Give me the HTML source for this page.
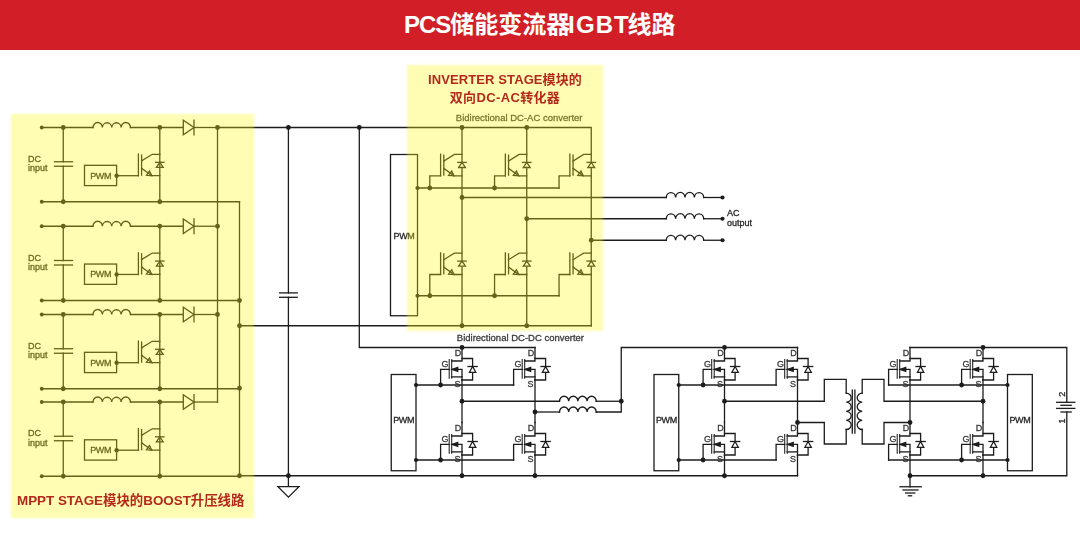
<!DOCTYPE html>
<html lang="zh-CN">
<head>
<meta charset="utf-8">
<title>PCS储能变流器IGBT线路</title>
<style>
html,body{margin:0;padding:0;background:#fff;}
body{width:1080px;height:536px;position:relative;overflow:hidden;font-family:"Liberation Sans","Noto Sans CJK SC",sans-serif;}
.hdr{position:absolute;left:0;top:0;width:1080px;height:49.5px;background:#d21f27;}
.hdr h1{margin:0;position:absolute;left:-0.3px;width:1080px;top:7px;text-align:center;color:#fff;font-weight:bold;font-size:24px;line-height:36px;letter-spacing:0;}
svg{position:absolute;left:0;top:0;will-change:transform;}
.hl{position:absolute;background:rgba(255,246,20,0.32);filter:blur(0.8px);}
.cap{position:absolute;color:#b5291c;font-weight:bold;font-size:13px;line-height:18px;white-space:nowrap;text-align:center;}
</style>
</head>
<body>
<div class="hdr"><h1><span style="letter-spacing:-1px">PCS</span>储能变流器<span style="margin-left:-2.2px;margin-right:-2.4px;letter-spacing:1.1px">IGBT</span>线路</h1></div>
<svg width="1080" height="536" viewBox="0 0 1080 536" font-family="'Liberation Sans','Noto Sans CJK SC',sans-serif">
<g fill="none" stroke="#1c1c1c" stroke-width="1.3" stroke-linecap="square" stroke-linejoin="miter">
<circle cx="41.75" cy="127.5" r="1.9" fill="#1c1c1c" stroke="none"/>
<circle cx="41.75" cy="201.75" r="1.9" fill="#1c1c1c" stroke="none"/>
<path d="M41.75 127.5 L93 127.5"/>
<path d="M93 127.5 A4.69 5 0 0 1 102.38 127.5 A4.69 5 0 0 1 111.75 127.5 A4.69 5 0 0 1 121.12 127.5 A4.69 5 0 0 1 130.5 127.5"/>
<path d="M130.5 127.5 L183.3 127.5"/>
<path d="M183.3 120.2 L183.3 134.8 L194 127.5 Z" fill="#fff"/>
<path d="M194 120.2 L194 134.8"/>
<path d="M194 127.5 L217.5 127.5"/>
<circle cx="63.25" cy="127.5" r="2.4" fill="#1c1c1c" stroke="none"/>
<circle cx="63.25" cy="201.75" r="2.4" fill="#1c1c1c" stroke="none"/>
<path d="M63.25 127.5 L63.25 161.75"/>
<path d="M54.5 161.75 L72.5 161.75"/>
<path d="M54.5 166.25 L72.5 166.25"/>
<path d="M63.25 166.25 L63.25 201.75"/>
<text x="28" y="161.8" font-size="9" text-anchor="start" fill="#262626" stroke="#262626" stroke-width="0.3">DC</text>
<text x="28" y="171.1" font-size="9" text-anchor="start" fill="#262626" stroke="#262626" stroke-width="0.3">input</text>
<rect x="84.5" y="165.3" width="32.1" height="20.3"/>
<text x="100.6" y="178.7" font-size="9" text-anchor="middle" fill="#262626" stroke="#262626" stroke-width="0.3" letter-spacing="-0.4">PWM</text>
<circle cx="116.6" cy="175.8" r="2.2" fill="#1c1c1c" stroke="none"/>
<path d="M138.4 154.1 L138.4 175.7"/>
<path d="M141.6 155.1 L141.6 175.1"/>
<path d="M141.6 160.9 L152.2 154.3 L159.8 154.3"/>
<path d="M141.6 168.3 L151.8 175.7 L159.8 175.7"/>
<path d="M146.4 175.3 L149.5 171 L151.8 175.7 Z" fill="none"/>
<path d="M155.6 162.3 L164 162.3"/>
<path d="M156.4 167.4 L163.2 167.4 L159.8 162.3 Z" fill="#fff"/>
<path d="M116.6 175.7 L138.4 175.7"/>
<path d="M159.8 127.5 L159.8 201.75"/>
<circle cx="159.8" cy="127.5" r="2.4" fill="#1c1c1c" stroke="none"/>
<circle cx="159.8" cy="201.75" r="2.4" fill="#1c1c1c" stroke="none"/>
<path d="M41.75 201.75 L239.5 201.75"/>
<circle cx="41.75" cy="226.25" r="1.9" fill="#1c1c1c" stroke="none"/>
<circle cx="41.75" cy="300.5" r="1.9" fill="#1c1c1c" stroke="none"/>
<path d="M41.75 226.25 L93 226.25"/>
<path d="M93 226.25 A4.69 5 0 0 1 102.38 226.25 A4.69 5 0 0 1 111.75 226.25 A4.69 5 0 0 1 121.12 226.25 A4.69 5 0 0 1 130.5 226.25"/>
<path d="M130.5 226.25 L183.3 226.25"/>
<path d="M183.3 218.95 L183.3 233.55 L194 226.25 Z" fill="#fff"/>
<path d="M194 218.95 L194 233.55"/>
<path d="M194 226.25 L217.5 226.25"/>
<circle cx="63.25" cy="226.25" r="2.4" fill="#1c1c1c" stroke="none"/>
<circle cx="63.25" cy="300.5" r="2.4" fill="#1c1c1c" stroke="none"/>
<path d="M63.25 226.25 L63.25 260.5"/>
<path d="M54.5 260.5 L72.5 260.5"/>
<path d="M54.5 265 L72.5 265"/>
<path d="M63.25 265 L63.25 300.5"/>
<text x="28" y="260.55" font-size="9" text-anchor="start" fill="#262626" stroke="#262626" stroke-width="0.3">DC</text>
<text x="28" y="269.85" font-size="9" text-anchor="start" fill="#262626" stroke="#262626" stroke-width="0.3">input</text>
<rect x="84.5" y="264.05" width="32.1" height="20.3"/>
<text x="100.6" y="277.45" font-size="9" text-anchor="middle" fill="#262626" stroke="#262626" stroke-width="0.3" letter-spacing="-0.4">PWM</text>
<circle cx="116.6" cy="274.55" r="2.2" fill="#1c1c1c" stroke="none"/>
<path d="M138.4 252.85 L138.4 274.45"/>
<path d="M141.6 253.85 L141.6 273.85"/>
<path d="M141.6 259.65 L152.2 253.05 L159.8 253.05"/>
<path d="M141.6 267.05 L151.8 274.45 L159.8 274.45"/>
<path d="M146.4 274.05 L149.5 269.75 L151.8 274.45 Z" fill="none"/>
<path d="M155.6 261.05 L164 261.05"/>
<path d="M156.4 266.15 L163.2 266.15 L159.8 261.05 Z" fill="#fff"/>
<path d="M116.6 274.45 L138.4 274.45"/>
<path d="M159.8 226.25 L159.8 300.5"/>
<circle cx="159.8" cy="226.25" r="2.4" fill="#1c1c1c" stroke="none"/>
<circle cx="159.8" cy="300.5" r="2.4" fill="#1c1c1c" stroke="none"/>
<path d="M41.75 300.5 L239.5 300.5"/>
<circle cx="41.75" cy="314.5" r="1.9" fill="#1c1c1c" stroke="none"/>
<circle cx="41.75" cy="388.75" r="1.9" fill="#1c1c1c" stroke="none"/>
<path d="M41.75 314.5 L93 314.5"/>
<path d="M93 314.5 A4.69 5 0 0 1 102.38 314.5 A4.69 5 0 0 1 111.75 314.5 A4.69 5 0 0 1 121.12 314.5 A4.69 5 0 0 1 130.5 314.5"/>
<path d="M130.5 314.5 L183.3 314.5"/>
<path d="M183.3 307.2 L183.3 321.8 L194 314.5 Z" fill="#fff"/>
<path d="M194 307.2 L194 321.8"/>
<path d="M194 314.5 L217.5 314.5"/>
<circle cx="63.25" cy="314.5" r="2.4" fill="#1c1c1c" stroke="none"/>
<circle cx="63.25" cy="388.75" r="2.4" fill="#1c1c1c" stroke="none"/>
<path d="M63.25 314.5 L63.25 348.75"/>
<path d="M54.5 348.75 L72.5 348.75"/>
<path d="M54.5 353.25 L72.5 353.25"/>
<path d="M63.25 353.25 L63.25 388.75"/>
<text x="28" y="348.8" font-size="9" text-anchor="start" fill="#262626" stroke="#262626" stroke-width="0.3">DC</text>
<text x="28" y="358.1" font-size="9" text-anchor="start" fill="#262626" stroke="#262626" stroke-width="0.3">input</text>
<rect x="84.5" y="352.3" width="32.1" height="20.3"/>
<text x="100.6" y="365.7" font-size="9" text-anchor="middle" fill="#262626" stroke="#262626" stroke-width="0.3" letter-spacing="-0.4">PWM</text>
<circle cx="116.6" cy="362.8" r="2.2" fill="#1c1c1c" stroke="none"/>
<path d="M138.4 341.1 L138.4 362.7"/>
<path d="M141.6 342.1 L141.6 362.1"/>
<path d="M141.6 347.9 L152.2 341.3 L159.8 341.3"/>
<path d="M141.6 355.3 L151.8 362.7 L159.8 362.7"/>
<path d="M146.4 362.3 L149.5 358 L151.8 362.7 Z" fill="none"/>
<path d="M155.6 349.3 L164 349.3"/>
<path d="M156.4 354.4 L163.2 354.4 L159.8 349.3 Z" fill="#fff"/>
<path d="M116.6 362.7 L138.4 362.7"/>
<path d="M159.8 314.5 L159.8 388.75"/>
<circle cx="159.8" cy="314.5" r="2.4" fill="#1c1c1c" stroke="none"/>
<circle cx="159.8" cy="388.75" r="2.4" fill="#1c1c1c" stroke="none"/>
<path d="M41.75 388.75 L239.5 388.75"/>
<circle cx="41.75" cy="402" r="1.9" fill="#1c1c1c" stroke="none"/>
<circle cx="41.75" cy="476.25" r="1.9" fill="#1c1c1c" stroke="none"/>
<path d="M41.75 402 L93 402"/>
<path d="M93 402 A4.69 5 0 0 1 102.38 402 A4.69 5 0 0 1 111.75 402 A4.69 5 0 0 1 121.12 402 A4.69 5 0 0 1 130.5 402"/>
<path d="M130.5 402 L183.3 402"/>
<path d="M183.3 394.7 L183.3 409.3 L194 402 Z" fill="#fff"/>
<path d="M194 394.7 L194 409.3"/>
<path d="M194 402 L217.5 402"/>
<circle cx="63.25" cy="402" r="2.4" fill="#1c1c1c" stroke="none"/>
<circle cx="63.25" cy="476.25" r="2.4" fill="#1c1c1c" stroke="none"/>
<path d="M63.25 402 L63.25 436.25"/>
<path d="M54.5 436.25 L72.5 436.25"/>
<path d="M54.5 440.75 L72.5 440.75"/>
<path d="M63.25 440.75 L63.25 476.25"/>
<text x="28" y="436.3" font-size="9" text-anchor="start" fill="#262626" stroke="#262626" stroke-width="0.3">DC</text>
<text x="28" y="445.6" font-size="9" text-anchor="start" fill="#262626" stroke="#262626" stroke-width="0.3">input</text>
<rect x="84.5" y="439.8" width="32.1" height="20.3"/>
<text x="100.6" y="453.2" font-size="9" text-anchor="middle" fill="#262626" stroke="#262626" stroke-width="0.3" letter-spacing="-0.4">PWM</text>
<circle cx="116.6" cy="450.3" r="2.2" fill="#1c1c1c" stroke="none"/>
<path d="M138.4 428.6 L138.4 450.2"/>
<path d="M141.6 429.6 L141.6 449.6"/>
<path d="M141.6 435.4 L152.2 428.8 L159.8 428.8"/>
<path d="M141.6 442.8 L151.8 450.2 L159.8 450.2"/>
<path d="M146.4 449.8 L149.5 445.5 L151.8 450.2 Z" fill="none"/>
<path d="M155.6 436.8 L164 436.8"/>
<path d="M156.4 441.9 L163.2 441.9 L159.8 436.8 Z" fill="#fff"/>
<path d="M116.6 450.2 L138.4 450.2"/>
<path d="M159.8 402 L159.8 476.25"/>
<circle cx="159.8" cy="402" r="2.4" fill="#1c1c1c" stroke="none"/>
<circle cx="159.8" cy="476.25" r="2.4" fill="#1c1c1c" stroke="none"/>
<path d="M41.75 476.25 L239.5 476.25"/>
<path d="M217.5 127.5 L217.5 402"/>
<path d="M239.5 201.75 L239.5 475.75"/>
<circle cx="217.5" cy="127.5" r="2.4" fill="#1c1c1c" stroke="none"/>
<circle cx="217.5" cy="226.25" r="2.4" fill="#1c1c1c" stroke="none"/>
<circle cx="217.5" cy="314.5" r="2.4" fill="#1c1c1c" stroke="none"/>
<circle cx="239.5" cy="300.5" r="2.4" fill="#1c1c1c" stroke="none"/>
<circle cx="239.5" cy="325.75" r="2.4" fill="#1c1c1c" stroke="none"/>
<circle cx="239.5" cy="388.25" r="2.4" fill="#1c1c1c" stroke="none"/>
<circle cx="239.5" cy="475.75" r="2.4" fill="#1c1c1c" stroke="none"/>
<path d="M217.5 127.5 L591.25 127.5 L591.25 325.75"/>
<circle cx="288.4" cy="127.5" r="2.4" fill="#1c1c1c" stroke="none"/>
<circle cx="359.3" cy="127.5" r="2.4" fill="#1c1c1c" stroke="none"/>
<path d="M288.4 127.5 L288.4 292.9"/>
<path d="M279.6 292.9 L297.2 292.9"/>
<path d="M279.6 297.3 L297.2 297.3"/>
<path d="M288.4 297.3 L288.4 486.6"/>
<circle cx="288.4" cy="475.75" r="2.4" fill="#1c1c1c" stroke="none"/>
<path d="M277.9 486.6 L299 486.6 L288.4 497.2 Z" fill="#fff"/>
<path d="M359.3 127.5 L359.3 347.5 L535 347.5"/>
<path d="M239.5 325.75 L591.25 325.75"/>
<path d="M239.5 475.75 L797.5 475.75"/>
<path d="M462 127.5 L462 325.75"/>
<circle cx="462" cy="127.5" r="2.4" fill="#1c1c1c" stroke="none"/>
<circle cx="462" cy="325.75" r="2.4" fill="#1c1c1c" stroke="none"/>
<path d="M440.6 154.2 L440.6 175.8"/>
<path d="M443.8 155.2 L443.8 175.2"/>
<path d="M443.8 161 L454.4 154.4 L462 154.4"/>
<path d="M443.8 168.4 L454 175.8 L462 175.8"/>
<path d="M448.6 175.4 L451.7 171.1 L454 175.8 Z" fill="none"/>
<path d="M457.8 162.4 L466.2 162.4"/>
<path d="M458.6 167.5 L465.4 167.5 L462 162.4 Z" fill="#fff"/>
<path d="M440.6 175.8 L429.8 175.8 L429.8 188"/>
<circle cx="429.8" cy="188" r="2.4" fill="#1c1c1c" stroke="none"/>
<path d="M440.6 252.9 L440.6 274.5"/>
<path d="M443.8 253.9 L443.8 273.9"/>
<path d="M443.8 259.7 L454.4 253.1 L462 253.1"/>
<path d="M443.8 267.1 L454 274.5 L462 274.5"/>
<path d="M448.6 274.1 L451.7 269.8 L454 274.5 Z" fill="none"/>
<path d="M457.8 261.1 L466.2 261.1"/>
<path d="M458.6 266.2 L465.4 266.2 L462 261.1 Z" fill="#fff"/>
<path d="M440.6 274.5 L429.8 274.5 L429.8 295.75"/>
<circle cx="429.8" cy="295.75" r="2.4" fill="#1c1c1c" stroke="none"/>
<path d="M526.75 127.5 L526.75 325.75"/>
<circle cx="526.75" cy="127.5" r="2.4" fill="#1c1c1c" stroke="none"/>
<circle cx="526.75" cy="325.75" r="2.4" fill="#1c1c1c" stroke="none"/>
<path d="M505.35 154.2 L505.35 175.8"/>
<path d="M508.55 155.2 L508.55 175.2"/>
<path d="M508.55 161 L519.15 154.4 L526.75 154.4"/>
<path d="M508.55 168.4 L518.75 175.8 L526.75 175.8"/>
<path d="M513.35 175.4 L516.45 171.1 L518.75 175.8 Z" fill="none"/>
<path d="M522.55 162.4 L530.95 162.4"/>
<path d="M523.35 167.5 L530.15 167.5 L526.75 162.4 Z" fill="#fff"/>
<path d="M505.35 175.8 L494.55 175.8 L494.55 188"/>
<circle cx="494.55" cy="188" r="2.4" fill="#1c1c1c" stroke="none"/>
<path d="M505.35 252.9 L505.35 274.5"/>
<path d="M508.55 253.9 L508.55 273.9"/>
<path d="M508.55 259.7 L519.15 253.1 L526.75 253.1"/>
<path d="M508.55 267.1 L518.75 274.5 L526.75 274.5"/>
<path d="M513.35 274.1 L516.45 269.8 L518.75 274.5 Z" fill="none"/>
<path d="M522.55 261.1 L530.95 261.1"/>
<path d="M523.35 266.2 L530.15 266.2 L526.75 261.1 Z" fill="#fff"/>
<path d="M505.35 274.5 L494.55 274.5 L494.55 295.75"/>
<circle cx="494.55" cy="295.75" r="2.4" fill="#1c1c1c" stroke="none"/>
<path d="M569.85 154.2 L569.85 175.8"/>
<path d="M573.05 155.2 L573.05 175.2"/>
<path d="M573.05 161 L583.65 154.4 L591.25 154.4"/>
<path d="M573.05 168.4 L583.25 175.8 L591.25 175.8"/>
<path d="M577.85 175.4 L580.95 171.1 L583.25 175.8 Z" fill="none"/>
<path d="M587.05 162.4 L595.45 162.4"/>
<path d="M587.85 167.5 L594.65 167.5 L591.25 162.4 Z" fill="#fff"/>
<path d="M569.85 175.8 L559.05 175.8 L559.05 188"/>
<path d="M569.85 252.9 L569.85 274.5"/>
<path d="M573.05 253.9 L573.05 273.9"/>
<path d="M573.05 259.7 L583.65 253.1 L591.25 253.1"/>
<path d="M573.05 267.1 L583.25 274.5 L591.25 274.5"/>
<path d="M577.85 274.1 L580.95 269.8 L583.25 274.5 Z" fill="none"/>
<path d="M587.05 261.1 L595.45 261.1"/>
<path d="M587.85 266.2 L594.65 266.2 L591.25 261.1 Z" fill="#fff"/>
<path d="M569.85 274.5 L559.05 274.5 L559.05 295.75"/>
<path d="M417.5 188 L559.05 188"/>
<circle cx="417.5" cy="188" r="2.1" fill="#1c1c1c" stroke="none"/>
<path d="M417.5 295.75 L559.05 295.75"/>
<circle cx="417.5" cy="295.75" r="2.1" fill="#1c1c1c" stroke="none"/>
<rect x="390.5" y="154.5" width="27" height="161.25"/>
<text x="404" y="238.5" font-size="9" text-anchor="middle" fill="#262626" stroke="#262626" stroke-width="0.3" letter-spacing="-0.4">PWM</text>
<circle cx="462" cy="197.5" r="2.4" fill="#1c1c1c" stroke="none"/>
<path d="M462 197.5 L666.25 197.5"/>
<path d="M666.25 197.5 A4.69 5.2 0 0 1 675.62 197.5 A4.69 5.2 0 0 1 685 197.5 A4.69 5.2 0 0 1 694.38 197.5 A4.69 5.2 0 0 1 703.75 197.5"/>
<path d="M703.75 197.5 L722.5 197.5"/>
<circle cx="722.5" cy="197.5" r="2.1" fill="#1c1c1c" stroke="none"/>
<circle cx="526.75" cy="218.75" r="2.4" fill="#1c1c1c" stroke="none"/>
<path d="M526.75 218.75 L666.25 218.75"/>
<path d="M666.25 218.75 A4.69 5.2 0 0 1 675.62 218.75 A4.69 5.2 0 0 1 685 218.75 A4.69 5.2 0 0 1 694.38 218.75 A4.69 5.2 0 0 1 703.75 218.75"/>
<path d="M703.75 218.75 L722.5 218.75"/>
<circle cx="722.5" cy="218.75" r="2.1" fill="#1c1c1c" stroke="none"/>
<circle cx="591.25" cy="240.25" r="2.4" fill="#1c1c1c" stroke="none"/>
<path d="M591.25 240.25 L666.25 240.25"/>
<path d="M666.25 240.25 A4.69 5.2 0 0 1 675.62 240.25 A4.69 5.2 0 0 1 685 240.25 A4.69 5.2 0 0 1 694.38 240.25 A4.69 5.2 0 0 1 703.75 240.25"/>
<path d="M703.75 240.25 L722.5 240.25"/>
<circle cx="722.5" cy="240.25" r="2.1" fill="#1c1c1c" stroke="none"/>
<text x="727" y="216.3" font-size="9" text-anchor="start" fill="#262626" stroke="#262626" stroke-width="0.3">AC</text>
<text x="727" y="226.3" font-size="9" text-anchor="start" fill="#262626" stroke="#262626" stroke-width="0.3">output</text>
<text x="455.8" y="121.2" font-size="9.5" text-anchor="start" fill="#3a3a3a" stroke="#3a3a3a" stroke-width="0.3">Bidirectional DC-AC converter</text>
<text x="456.8" y="340.6" font-size="9.5" text-anchor="start" fill="#3a3a3a" stroke="#3a3a3a" stroke-width="0.3">Bidirectional DC-DC converter</text>
<path d="M449.2 359.4 L449.2 378.1" stroke-width="1.05"/>
<path d="M451.7 359.4 L451.7 378.1" stroke-width="1.05"/>
<path d="M462 347.5 L462 361 L451.7 361"/>
<path d="M451.7 369.4 L462 369.4 L462 380"/>
<path d="M451.7 376.9 L462 376.9"/>
<path d="M452.3 369.4 L457.7 367.5 L457.7 371.3 Z" fill="#1c1c1c"/>
<path d="M462 358.5 L472.6 358.5 L472.6 380 L462 380"/>
<path d="M468 366.5 L477.2 366.5"/>
<path d="M469.4 372.3 L475.8 372.3 L472.6 366.5 Z" fill="#fff"/>
<text x="461.2" y="355.6" font-size="9" text-anchor="end" fill="#3a3a3a" stroke="#3a3a3a" stroke-width="0.3">D</text>
<text x="448.6" y="366.9" font-size="9" text-anchor="end" fill="#3a3a3a" stroke="#3a3a3a" stroke-width="0.3">G</text>
<text x="460.6" y="387.1" font-size="9" text-anchor="end" fill="#3a3a3a" stroke="#3a3a3a" stroke-width="0.3">S</text>
<path d="M449.2 369.4 L440.6 369.4 L440.6 385"/>
<path d="M449.2 434.4 L449.2 453.1" stroke-width="1.05"/>
<path d="M451.7 434.4 L451.7 453.1" stroke-width="1.05"/>
<path d="M462 422.5 L462 436 L451.7 436"/>
<path d="M451.7 444.4 L462 444.4 L462 455"/>
<path d="M451.7 451.9 L462 451.9"/>
<path d="M452.3 444.4 L457.7 442.5 L457.7 446.3 Z" fill="#1c1c1c"/>
<path d="M462 433.5 L472.6 433.5 L472.6 455 L462 455"/>
<path d="M468 441.5 L477.2 441.5"/>
<path d="M469.4 447.3 L475.8 447.3 L472.6 441.5 Z" fill="#fff"/>
<text x="461.2" y="430.6" font-size="9" text-anchor="end" fill="#3a3a3a" stroke="#3a3a3a" stroke-width="0.3">D</text>
<text x="448.6" y="441.9" font-size="9" text-anchor="end" fill="#3a3a3a" stroke="#3a3a3a" stroke-width="0.3">G</text>
<text x="460.6" y="462.1" font-size="9" text-anchor="end" fill="#3a3a3a" stroke="#3a3a3a" stroke-width="0.3">S</text>
<path d="M449.2 444.4 L440.6 444.4 L440.6 460"/>
<path d="M462 380 L462 422.5"/>
<path d="M462 455 L462 475.75"/>
<path d="M522.2 359.4 L522.2 378.1" stroke-width="1.05"/>
<path d="M524.7 359.4 L524.7 378.1" stroke-width="1.05"/>
<path d="M535 347.5 L535 361 L524.7 361"/>
<path d="M524.7 369.4 L535 369.4 L535 380"/>
<path d="M524.7 376.9 L535 376.9"/>
<path d="M525.3 369.4 L530.7 367.5 L530.7 371.3 Z" fill="#1c1c1c"/>
<path d="M535 358.5 L545.6 358.5 L545.6 380 L535 380"/>
<path d="M541 366.5 L550.2 366.5"/>
<path d="M542.4 372.3 L548.8 372.3 L545.6 366.5 Z" fill="#fff"/>
<text x="534.2" y="355.6" font-size="9" text-anchor="end" fill="#3a3a3a" stroke="#3a3a3a" stroke-width="0.3">D</text>
<text x="521.6" y="366.9" font-size="9" text-anchor="end" fill="#3a3a3a" stroke="#3a3a3a" stroke-width="0.3">G</text>
<text x="533.6" y="387.1" font-size="9" text-anchor="end" fill="#3a3a3a" stroke="#3a3a3a" stroke-width="0.3">S</text>
<path d="M522.2 369.4 L513.6 369.4 L513.6 385"/>
<path d="M522.2 434.4 L522.2 453.1" stroke-width="1.05"/>
<path d="M524.7 434.4 L524.7 453.1" stroke-width="1.05"/>
<path d="M535 422.5 L535 436 L524.7 436"/>
<path d="M524.7 444.4 L535 444.4 L535 455"/>
<path d="M524.7 451.9 L535 451.9"/>
<path d="M525.3 444.4 L530.7 442.5 L530.7 446.3 Z" fill="#1c1c1c"/>
<path d="M535 433.5 L545.6 433.5 L545.6 455 L535 455"/>
<path d="M541 441.5 L550.2 441.5"/>
<path d="M542.4 447.3 L548.8 447.3 L545.6 441.5 Z" fill="#fff"/>
<text x="534.2" y="430.6" font-size="9" text-anchor="end" fill="#3a3a3a" stroke="#3a3a3a" stroke-width="0.3">D</text>
<text x="521.6" y="441.9" font-size="9" text-anchor="end" fill="#3a3a3a" stroke="#3a3a3a" stroke-width="0.3">G</text>
<text x="533.6" y="462.1" font-size="9" text-anchor="end" fill="#3a3a3a" stroke="#3a3a3a" stroke-width="0.3">S</text>
<path d="M522.2 444.4 L513.6 444.4 L513.6 460"/>
<path d="M535 380 L535 422.5"/>
<path d="M535 455 L535 475.75"/>
<path d="M416 385 L513.6 385"/>
<circle cx="416" cy="385" r="2.1" fill="#1c1c1c" stroke="none"/>
<circle cx="440.6" cy="385" r="2.4" fill="#1c1c1c" stroke="none"/>
<path d="M416 460 L513.6 460"/>
<circle cx="416" cy="460" r="2.1" fill="#1c1c1c" stroke="none"/>
<circle cx="440.6" cy="460" r="2.4" fill="#1c1c1c" stroke="none"/>
<rect x="391.25" y="374.5" width="24.75" height="96.25"/>
<text x="403.62" y="423" font-size="9" text-anchor="middle" fill="#262626" stroke="#262626" stroke-width="0.3" letter-spacing="-0.4">PWM</text>
<circle cx="462" cy="347.5" r="2.4" fill="#1c1c1c" stroke="none"/>
<circle cx="462" cy="475.75" r="2.4" fill="#1c1c1c" stroke="none"/>
<circle cx="535" cy="475.75" r="2.4" fill="#1c1c1c" stroke="none"/>
<circle cx="462" cy="401.25" r="2.4" fill="#1c1c1c" stroke="none"/>
<circle cx="535" cy="412" r="2.4" fill="#1c1c1c" stroke="none"/>
<path d="M462 401.25 L559.5 401.25"/>
<path d="M559.5 401.25 A4.59 5 0 0 1 568.69 401.25 A4.59 5 0 0 1 577.88 401.25 A4.59 5 0 0 1 587.06 401.25 A4.59 5 0 0 1 596.25 401.25"/>
<path d="M596.25 401.25 L621.25 401.25"/>
<path d="M535 412 L559.5 412"/>
<path d="M559.5 412 A4.59 5 0 0 1 568.69 412 A4.59 5 0 0 1 577.88 412 A4.59 5 0 0 1 587.06 412 A4.59 5 0 0 1 596.25 412"/>
<path d="M596.25 412 L621.25 412 L621.25 347.5 L797.5 347.5"/>
<circle cx="621.25" cy="401.25" r="2.4" fill="#1c1c1c" stroke="none"/>
<path d="M711.7 359.4 L711.7 378.1" stroke-width="1.05"/>
<path d="M714.2 359.4 L714.2 378.1" stroke-width="1.05"/>
<path d="M724.5 347.5 L724.5 361 L714.2 361"/>
<path d="M714.2 369.4 L724.5 369.4 L724.5 380"/>
<path d="M714.2 376.9 L724.5 376.9"/>
<path d="M714.8 369.4 L720.2 367.5 L720.2 371.3 Z" fill="#1c1c1c"/>
<path d="M724.5 358.5 L735.1 358.5 L735.1 380 L724.5 380"/>
<path d="M730.5 366.5 L739.7 366.5"/>
<path d="M731.9 372.3 L738.3 372.3 L735.1 366.5 Z" fill="#fff"/>
<text x="723.7" y="355.6" font-size="9" text-anchor="end" fill="#3a3a3a" stroke="#3a3a3a" stroke-width="0.3">D</text>
<text x="711.1" y="366.9" font-size="9" text-anchor="end" fill="#3a3a3a" stroke="#3a3a3a" stroke-width="0.3">G</text>
<text x="723.1" y="387.1" font-size="9" text-anchor="end" fill="#3a3a3a" stroke="#3a3a3a" stroke-width="0.3">S</text>
<path d="M711.7 369.4 L703.1 369.4 L703.1 385"/>
<path d="M711.7 434.4 L711.7 453.1" stroke-width="1.05"/>
<path d="M714.2 434.4 L714.2 453.1" stroke-width="1.05"/>
<path d="M724.5 422.5 L724.5 436 L714.2 436"/>
<path d="M714.2 444.4 L724.5 444.4 L724.5 455"/>
<path d="M714.2 451.9 L724.5 451.9"/>
<path d="M714.8 444.4 L720.2 442.5 L720.2 446.3 Z" fill="#1c1c1c"/>
<path d="M724.5 433.5 L735.1 433.5 L735.1 455 L724.5 455"/>
<path d="M730.5 441.5 L739.7 441.5"/>
<path d="M731.9 447.3 L738.3 447.3 L735.1 441.5 Z" fill="#fff"/>
<text x="723.7" y="430.6" font-size="9" text-anchor="end" fill="#3a3a3a" stroke="#3a3a3a" stroke-width="0.3">D</text>
<text x="711.1" y="441.9" font-size="9" text-anchor="end" fill="#3a3a3a" stroke="#3a3a3a" stroke-width="0.3">G</text>
<text x="723.1" y="462.1" font-size="9" text-anchor="end" fill="#3a3a3a" stroke="#3a3a3a" stroke-width="0.3">S</text>
<path d="M711.7 444.4 L703.1 444.4 L703.1 460"/>
<path d="M724.5 380 L724.5 422.5"/>
<path d="M724.5 455 L724.5 475.75"/>
<path d="M784.7 359.4 L784.7 378.1" stroke-width="1.05"/>
<path d="M787.2 359.4 L787.2 378.1" stroke-width="1.05"/>
<path d="M797.5 347.5 L797.5 361 L787.2 361"/>
<path d="M787.2 369.4 L797.5 369.4 L797.5 380"/>
<path d="M787.2 376.9 L797.5 376.9"/>
<path d="M787.8 369.4 L793.2 367.5 L793.2 371.3 Z" fill="#1c1c1c"/>
<path d="M797.5 358.5 L808.1 358.5 L808.1 380 L797.5 380"/>
<path d="M803.5 366.5 L812.7 366.5"/>
<path d="M804.9 372.3 L811.3 372.3 L808.1 366.5 Z" fill="#fff"/>
<text x="796.7" y="355.6" font-size="9" text-anchor="end" fill="#3a3a3a" stroke="#3a3a3a" stroke-width="0.3">D</text>
<text x="784.1" y="366.9" font-size="9" text-anchor="end" fill="#3a3a3a" stroke="#3a3a3a" stroke-width="0.3">G</text>
<text x="796.1" y="387.1" font-size="9" text-anchor="end" fill="#3a3a3a" stroke="#3a3a3a" stroke-width="0.3">S</text>
<path d="M784.7 369.4 L776.1 369.4 L776.1 385"/>
<path d="M784.7 434.4 L784.7 453.1" stroke-width="1.05"/>
<path d="M787.2 434.4 L787.2 453.1" stroke-width="1.05"/>
<path d="M797.5 422.5 L797.5 436 L787.2 436"/>
<path d="M787.2 444.4 L797.5 444.4 L797.5 455"/>
<path d="M787.2 451.9 L797.5 451.9"/>
<path d="M787.8 444.4 L793.2 442.5 L793.2 446.3 Z" fill="#1c1c1c"/>
<path d="M797.5 433.5 L808.1 433.5 L808.1 455 L797.5 455"/>
<path d="M803.5 441.5 L812.7 441.5"/>
<path d="M804.9 447.3 L811.3 447.3 L808.1 441.5 Z" fill="#fff"/>
<text x="796.7" y="430.6" font-size="9" text-anchor="end" fill="#3a3a3a" stroke="#3a3a3a" stroke-width="0.3">D</text>
<text x="784.1" y="441.9" font-size="9" text-anchor="end" fill="#3a3a3a" stroke="#3a3a3a" stroke-width="0.3">G</text>
<text x="796.1" y="462.1" font-size="9" text-anchor="end" fill="#3a3a3a" stroke="#3a3a3a" stroke-width="0.3">S</text>
<path d="M784.7 444.4 L776.1 444.4 L776.1 460"/>
<path d="M797.5 380 L797.5 422.5"/>
<path d="M797.5 455 L797.5 475.75"/>
<path d="M678.75 385 L776.1 385"/>
<circle cx="678.75" cy="385" r="2.1" fill="#1c1c1c" stroke="none"/>
<circle cx="703.1" cy="385" r="2.4" fill="#1c1c1c" stroke="none"/>
<path d="M678.75 460 L776.1 460"/>
<circle cx="678.75" cy="460" r="2.1" fill="#1c1c1c" stroke="none"/>
<circle cx="703.1" cy="460" r="2.4" fill="#1c1c1c" stroke="none"/>
<rect x="654" y="374.5" width="24.75" height="96.25"/>
<text x="666.38" y="423" font-size="9" text-anchor="middle" fill="#262626" stroke="#262626" stroke-width="0.3" letter-spacing="-0.4">PWM</text>
<circle cx="724.5" cy="347.5" r="2.4" fill="#1c1c1c" stroke="none"/>
<circle cx="724.5" cy="475.75" r="2.4" fill="#1c1c1c" stroke="none"/>
<circle cx="724.5" cy="401.25" r="2.4" fill="#1c1c1c" stroke="none"/>
<circle cx="797.5" cy="422.5" r="2.4" fill="#1c1c1c" stroke="none"/>
<path d="M724.5 401.25 L824.3 401.25 L824.3 379.4 L846.2 379.4 L846.2 393.1"/>
<path d="M797.5 422.5 L824.3 422.5 L824.3 444 L846.2 444 L846.2 429.5"/>
<path d="M846.2 393.1 A5 4.55 0 0 1 846.2 402.2 A5 4.55 0 0 1 846.2 411.3 A5 4.55 0 0 1 846.2 420.4 A5 4.55 0 0 1 846.2 429.5"/>
<path d="M852.3 390.2 L852.3 433.1"/>
<path d="M854.9 390.2 L854.9 433.1"/>
<path d="M862.2 393.1 A5 4.55 0 0 0 862.2 402.2 A5 4.55 0 0 0 862.2 411.3 A5 4.55 0 0 0 862.2 420.4 A5 4.55 0 0 0 862.2 429.5"/>
<path d="M862.2 393.1 L862.2 379.4 L884 379.4 L884 401.25 L983 401.25"/>
<path d="M862.2 429.5 L862.2 444 L884 444 L884 422.5 L910 422.5"/>
<path d="M897.2 359.4 L897.2 378.1" stroke-width="1.05"/>
<path d="M899.7 359.4 L899.7 378.1" stroke-width="1.05"/>
<path d="M910 347.5 L910 361 L899.7 361"/>
<path d="M899.7 369.4 L910 369.4 L910 380"/>
<path d="M899.7 376.9 L910 376.9"/>
<path d="M900.3 369.4 L905.7 367.5 L905.7 371.3 Z" fill="#1c1c1c"/>
<path d="M910 358.5 L920.6 358.5 L920.6 380 L910 380"/>
<path d="M916 366.5 L925.2 366.5"/>
<path d="M917.4 372.3 L923.8 372.3 L920.6 366.5 Z" fill="#fff"/>
<text x="909.2" y="355.6" font-size="9" text-anchor="end" fill="#3a3a3a" stroke="#3a3a3a" stroke-width="0.3">D</text>
<text x="896.6" y="366.9" font-size="9" text-anchor="end" fill="#3a3a3a" stroke="#3a3a3a" stroke-width="0.3">G</text>
<text x="908.6" y="387.1" font-size="9" text-anchor="end" fill="#3a3a3a" stroke="#3a3a3a" stroke-width="0.3">S</text>
<path d="M897.2 369.4 L888.6 369.4 L888.6 385"/>
<path d="M897.2 434.4 L897.2 453.1" stroke-width="1.05"/>
<path d="M899.7 434.4 L899.7 453.1" stroke-width="1.05"/>
<path d="M910 422.5 L910 436 L899.7 436"/>
<path d="M899.7 444.4 L910 444.4 L910 455"/>
<path d="M899.7 451.9 L910 451.9"/>
<path d="M900.3 444.4 L905.7 442.5 L905.7 446.3 Z" fill="#1c1c1c"/>
<path d="M910 433.5 L920.6 433.5 L920.6 455 L910 455"/>
<path d="M916 441.5 L925.2 441.5"/>
<path d="M917.4 447.3 L923.8 447.3 L920.6 441.5 Z" fill="#fff"/>
<text x="909.2" y="430.6" font-size="9" text-anchor="end" fill="#3a3a3a" stroke="#3a3a3a" stroke-width="0.3">D</text>
<text x="896.6" y="441.9" font-size="9" text-anchor="end" fill="#3a3a3a" stroke="#3a3a3a" stroke-width="0.3">G</text>
<text x="908.6" y="462.1" font-size="9" text-anchor="end" fill="#3a3a3a" stroke="#3a3a3a" stroke-width="0.3">S</text>
<path d="M897.2 444.4 L888.6 444.4 L888.6 460"/>
<path d="M910 380 L910 422.5"/>
<path d="M910 455 L910 475.75"/>
<path d="M970.2 359.4 L970.2 378.1" stroke-width="1.05"/>
<path d="M972.7 359.4 L972.7 378.1" stroke-width="1.05"/>
<path d="M983 347.5 L983 361 L972.7 361"/>
<path d="M972.7 369.4 L983 369.4 L983 380"/>
<path d="M972.7 376.9 L983 376.9"/>
<path d="M973.3 369.4 L978.7 367.5 L978.7 371.3 Z" fill="#1c1c1c"/>
<path d="M983 358.5 L993.6 358.5 L993.6 380 L983 380"/>
<path d="M989 366.5 L998.2 366.5"/>
<path d="M990.4 372.3 L996.8 372.3 L993.6 366.5 Z" fill="#fff"/>
<text x="982.2" y="355.6" font-size="9" text-anchor="end" fill="#3a3a3a" stroke="#3a3a3a" stroke-width="0.3">D</text>
<text x="969.6" y="366.9" font-size="9" text-anchor="end" fill="#3a3a3a" stroke="#3a3a3a" stroke-width="0.3">G</text>
<text x="981.6" y="387.1" font-size="9" text-anchor="end" fill="#3a3a3a" stroke="#3a3a3a" stroke-width="0.3">S</text>
<path d="M970.2 369.4 L961.6 369.4 L961.6 385"/>
<path d="M970.2 434.4 L970.2 453.1" stroke-width="1.05"/>
<path d="M972.7 434.4 L972.7 453.1" stroke-width="1.05"/>
<path d="M983 422.5 L983 436 L972.7 436"/>
<path d="M972.7 444.4 L983 444.4 L983 455"/>
<path d="M972.7 451.9 L983 451.9"/>
<path d="M973.3 444.4 L978.7 442.5 L978.7 446.3 Z" fill="#1c1c1c"/>
<path d="M983 433.5 L993.6 433.5 L993.6 455 L983 455"/>
<path d="M989 441.5 L998.2 441.5"/>
<path d="M990.4 447.3 L996.8 447.3 L993.6 441.5 Z" fill="#fff"/>
<text x="982.2" y="430.6" font-size="9" text-anchor="end" fill="#3a3a3a" stroke="#3a3a3a" stroke-width="0.3">D</text>
<text x="969.6" y="441.9" font-size="9" text-anchor="end" fill="#3a3a3a" stroke="#3a3a3a" stroke-width="0.3">G</text>
<text x="981.6" y="462.1" font-size="9" text-anchor="end" fill="#3a3a3a" stroke="#3a3a3a" stroke-width="0.3">S</text>
<path d="M970.2 444.4 L961.6 444.4 L961.6 460"/>
<path d="M983 380 L983 422.5"/>
<path d="M983 455 L983 475.75"/>
<path d="M888.6 385 L1007.5 385"/>
<circle cx="1007.5" cy="385" r="2.1" fill="#1c1c1c" stroke="none"/>
<circle cx="961.6" cy="385" r="2.4" fill="#1c1c1c" stroke="none"/>
<path d="M888.6 460 L1007.5 460"/>
<circle cx="1007.5" cy="460" r="2.1" fill="#1c1c1c" stroke="none"/>
<circle cx="961.6" cy="460" r="2.4" fill="#1c1c1c" stroke="none"/>
<rect x="1007.5" y="374.5" width="24.8" height="96.25"/>
<text x="1019.9" y="423" font-size="9" text-anchor="middle" fill="#262626" stroke="#262626" stroke-width="0.3" letter-spacing="-0.4">PWM</text>
<circle cx="983" cy="347.5" r="2.4" fill="#1c1c1c" stroke="none"/>
<circle cx="983" cy="401.25" r="2.4" fill="#1c1c1c" stroke="none"/>
<circle cx="910" cy="422.5" r="2.4" fill="#1c1c1c" stroke="none"/>
<circle cx="910" cy="475.75" r="2.4" fill="#1c1c1c" stroke="none"/>
<circle cx="983" cy="475.75" r="2.4" fill="#1c1c1c" stroke="none"/>
<path d="M910 347.5 L1066.8 347.5 L1066.8 402.3"/>
<path d="M910 475.75 L1066.8 475.75 L1066.8 412"/>
<path d="M1056.7 402.3 L1074.8 402.3"/>
<path d="M1061 405.3 L1071.2 405.3"/>
<path d="M1056.7 408.4 L1074.8 408.4"/>
<path d="M1061 412 L1071.2 412"/>
<text x="0" y="0" font-size="9" text-anchor="middle" fill="#262626" stroke="#262626" stroke-width="0.3" transform="translate(1064.8 394.2) rotate(-90)">2</text>
<text x="0" y="0" font-size="9" text-anchor="middle" fill="#262626" stroke="#262626" stroke-width="0.3" transform="translate(1064.8 421) rotate(-90)">1</text>
<path d="M910 475.75 L910 486.75"/>
<path d="M900 486.75 L921.25 486.75"/>
<path d="M903 490 L918 490"/>
<path d="M905.6 493 L914.8 493"/>
<path d="M908.4 495.8 L911.6 495.8"/>
</g>
</svg>
<div class="hl" style="left:11px;top:114px;width:243px;height:404px;"></div>
<div class="hl" style="left:407px;top:65px;width:196px;height:266px;"></div>
<div class="cap" id="cap1" style="left:407px;top:70.5px;width:196px;"><span style="letter-spacing:0.1px">INVERTER STAGE模块的</span><br><span style="letter-spacing:0.36px">双向DC-AC转化器</span></div>
<div class="cap" id="cap2" style="left:17px;top:492.3px;font-size:13.4px;text-align:left;">MPPT STAGE模块的BOOST升压线路</div>
</body>
</html>
